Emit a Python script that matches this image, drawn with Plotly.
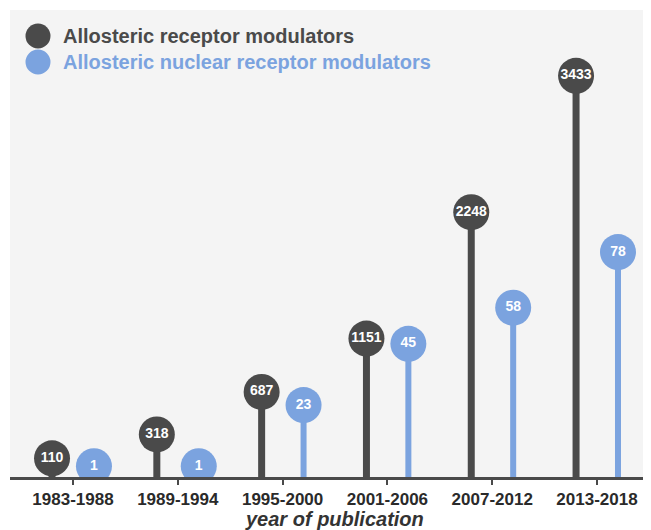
import numpy as np
import plotly.graph_objects as go

categories = ["1983-1988", "1989-1994", "1995-2000", "2001-2006", "2007-2012", "2013-2018"]
receptor_modulators = [110, 318, 687, 1151, 2248, 3433]
nuclear_receptor_modulators = [1, 1, 23, 45, 58, 78]
series_names = ["Allosteric receptor modulators", "Allosteric nuclear receptor modulators"]
x_axis_title = "year of publication"

DARK = "#4a4a4a"
BLUE = "#7ba3df"
FONT = "Liberation Sans, Arial, sans-serif"

pos = np.arange(len(categories))
off = 0.2
x_dark = pos - off
x_blue = pos + off

Y1 = [-52.1, 4005]
Y2 = [-2.876, 165.0]

def stems(xs, vals, base):
    sx, sy = [], []
    for xv, v in zip(xs, vals):
        sx += [xv, xv, None]
        sy += [base, v, None]
    return sx, sy

fig = go.Figure()
sx, sy = stems(x_dark, receptor_modulators, Y1[0])
fig.add_trace(go.Scatter(x=sx, y=sy, mode="lines", line=dict(color=DARK, width=7),
                         hoverinfo="skip", showlegend=False, yaxis="y"))
sx, sy = stems(x_blue, nuclear_receptor_modulators, Y2[0])
fig.add_trace(go.Scatter(x=sx, y=sy, mode="lines", line=dict(color=BLUE, width=6),
                         hoverinfo="skip", showlegend=False, yaxis="y2"))
fig.add_trace(go.Scatter(x=x_dark, y=receptor_modulators, mode="markers+text",
                         marker=dict(size=36, color=DARK),
                         text=[str(v) for v in receptor_modulators], textposition="middle center",
                         textfont=dict(color="white", size=14, family=FONT, weight="bold"),
                         name=series_names[0], showlegend=False, yaxis="y"))
fig.add_trace(go.Scatter(x=x_blue, y=nuclear_receptor_modulators, mode="markers+text",
                         marker=dict(size=36, color=BLUE),
                         text=[str(v) for v in nuclear_receptor_modulators], textposition="middle center",
                         textfont=dict(color="white", size=14, family=FONT, weight="bold"),
                         name=series_names[1], showlegend=False, yaxis="y2"))

# page body has an 8px margin; screen coords = figure coords + 8
OFF = 8
W, H = 643, 522
ml, mr, mt, mb = 2, 0, 2, 53
pw, ph = W - ml - mr, H - mt - mb

def px(xs):
    return (xs - OFF - ml) / pw

def py(ys):
    return (H - mb - (ys - OFF)) / ph

shapes = []
annotations = []
for i, (name, col) in enumerate(zip(series_names, [DARK, BLUE])):
    cy = 36 + 26 * i
    r = 12.5
    shapes.append(dict(type="circle", xref="paper", yref="paper",
                       x0=px(38 - r), x1=px(38 + r), y0=py(cy + r), y1=py(cy - r),
                       fillcolor=col, line=dict(width=0)))
    annotations.append(dict(text="<b>%s</b>" % name, xref="paper", yref="paper",
                            x=px(61), y=py(cy), xanchor="left", yanchor="middle",
                            showarrow=False, font=dict(size=20, color=col, family=FONT)))

annotations.append(dict(text="<b><i>%s</i></b>" % x_axis_title, xref="paper", yref="paper",
                        x=px(335), y=py(519), xanchor="center", yanchor="middle",
                        showarrow=False, font=dict(size=20, color="#333333", family=FONT)))

fig.update_layout(
    width=W, height=H,
    margin=dict(l=ml, r=mr, t=mt, b=mb, pad=0),
    paper_bgcolor="white", plot_bgcolor="#f4f4f4",
    showlegend=False,
    font=dict(family=FONT),
    xaxis=dict(range=[-0.601, 5.515], tickvals=list(pos), ticktext=categories,
               showgrid=False, zeroline=False, showline=True, linecolor=DARK, linewidth=3,
               ticks="outside", ticklen=5, tickwidth=2, tickcolor=DARK,
               tickfont=dict(size=17, color="#2a2a2a", family=FONT, weight="bold")),
    yaxis=dict(range=Y1, visible=False, showgrid=False, zeroline=False),
    yaxis2=dict(range=Y2, visible=False, showgrid=False, zeroline=False, overlaying="y"),
    shapes=shapes,
    annotations=annotations,
)

fig.write_html("out.html")
